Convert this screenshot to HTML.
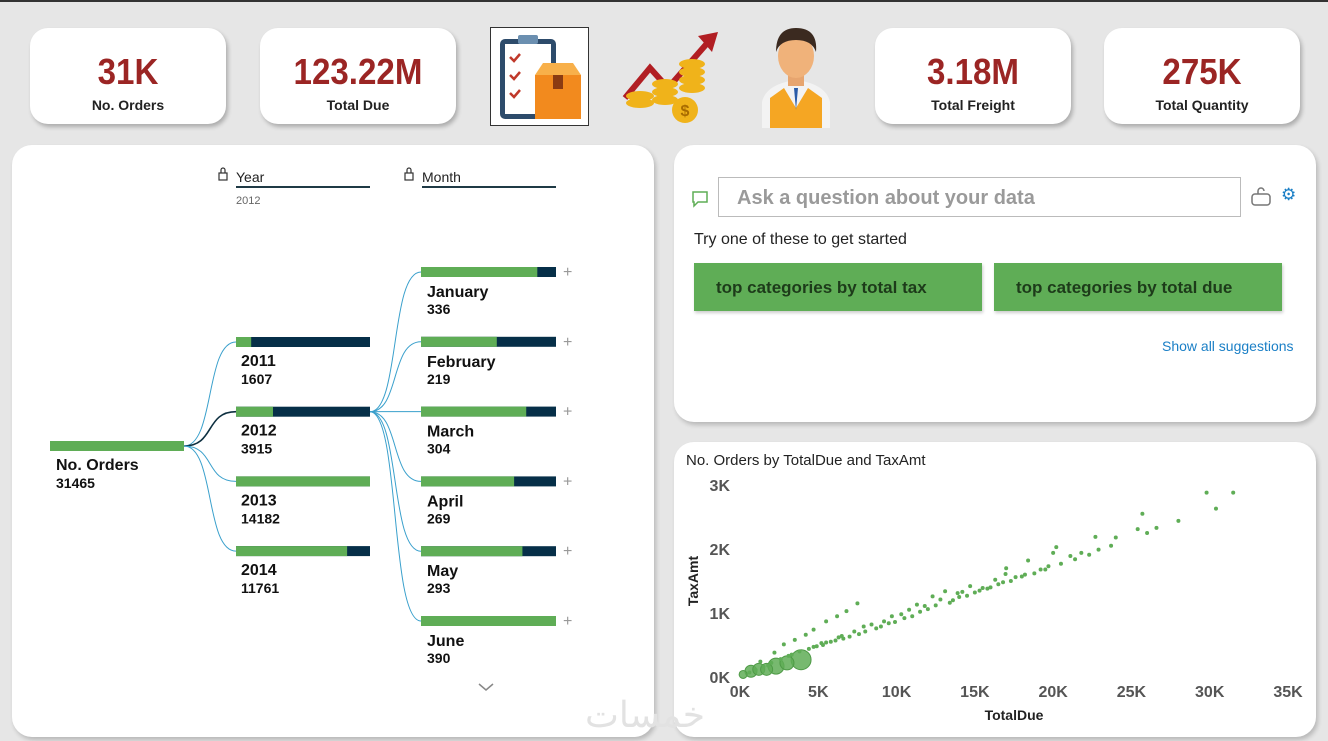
<!DOCTYPE html>
<html><head><meta charset="utf-8"><style>
*{box-sizing:border-box;margin:0;padding:0}
body{width:1328px;height:741px;background:#e6e6e6;font-family:"Liberation Sans",sans-serif;position:relative;overflow:hidden}
.abs{position:absolute}
.card{position:absolute;background:#fff;border-radius:18px;box-shadow:2px 3px 4px rgba(0,0,0,.25);text-align:center}
.card .v{font-size:36px;font-weight:bold;color:#9b2524;margin-top:22px;line-height:44px;transform:scaleX(.92)}
.card .l{font-size:14px;font-weight:bold;color:#222;margin-top:3px}
.panel{position:absolute;background:#fff;border-radius:20px;box-shadow:2px 3px 5px rgba(0,0,0,.2)}
.btn{position:absolute;background:#5fad56;top:263px;height:48px;width:288px;font-size:17px;font-weight:bold;color:#1d3b1a;padding:15px 22px;box-shadow:1px 2px 3px rgba(0,0,0,.2)}
</style></head><body>
<div class="abs" style="left:0;top:0;width:1328px;height:2px;background:#333"></div>
<div class="card" style="left:30px;top:28px;width:196px;height:96px"><div class="v">31K</div><div class="l">No. Orders</div></div>
<div class="card" style="left:260px;top:28px;width:196px;height:96px"><div class="v">123.22M</div><div class="l">Total Due</div></div>
<div class="card" style="left:875px;top:28px;width:196px;height:96px"><div class="v">3.18M</div><div class="l">Total Freight</div></div>
<div class="card" style="left:1104px;top:28px;width:196px;height:96px"><div class="v">275K</div><div class="l">Total Quantity</div></div>

<svg class="abs" style="left:490px;top:27px" width="99" height="99">
<rect x="0.5" y="0.5" width="98" height="98" fill="#fff" stroke="#333"/>
<rect x="10" y="12" width="56" height="80" rx="5" fill="#2d4b6b"/><rect x="15" y="17" width="46" height="70" fill="#fff"/>
<rect x="28" y="8" width="20" height="9" rx="2" fill="#6b8fb0"/>
<path d="M20 30l4 4 6-7M20 48l4 4 6-7M20 66l4 4 6-7" stroke="#c0392b" stroke-width="2.5" fill="none"/>
<rect x="45" y="48" width="46" height="44" fill="#f28a1e"/><path d="M45 48l8-12h30l8 12z" fill="#f8b04a"/><rect x="63" y="48" width="10" height="14" fill="#8a3b12"/>
</svg>
<svg class="abs" style="left:620px;top:28px" width="106" height="98">
<path d="M5 70L30 40l18 20L90 12" stroke="#b11e23" stroke-width="6" fill="none"/><path d="M78 8l20-4-6 20z" fill="#b11e23"/>
<g fill="#f0b31a"><ellipse cx="20" cy="75" rx="14" ry="5"/><ellipse cx="20" cy="68" rx="14" ry="5"/><ellipse cx="45" cy="72" rx="13" ry="5"/><ellipse cx="45" cy="64" rx="13" ry="5"/><ellipse cx="45" cy="56" rx="13" ry="5"/><ellipse cx="72" cy="60" rx="13" ry="5"/><ellipse cx="72" cy="52" rx="13" ry="5"/><ellipse cx="72" cy="44" rx="13" ry="5"/><ellipse cx="72" cy="36" rx="13" ry="5"/><circle cx="65" cy="82" r="13"/></g>
<text x="65" y="88" font-size="16" text-anchor="middle" fill="#a86b00" font-weight="bold">$</text>
</svg>
<svg class="abs" style="left:760px;top:22px" width="72" height="106">
<path d="M2 106V80q4-18 34-22q30 4 34 22v26z" fill="#f3f3f3"/><path d="M10 106V76l14-10 12 20 12-20 14 10v30z" fill="#f5a623"/>
<rect x="28" y="48" width="16" height="16" fill="#e7a56f"/><ellipse cx="36" cy="34" rx="18" ry="22" fill="#f0b27a"/>
<path d="M16 30q0-24 20-24q22 0 20 24q-4-12-20-12q-16 0-20 12z" fill="#3b2a20"/><path d="M34 66l2 22 2-22z" fill="#2b5ca8"/>
</svg>

<div class="panel" style="left:12px;top:145px;width:642px;height:592px"></div>
<div class="panel" style="left:674px;top:145px;width:642px;height:277px"></div>
<div class="panel" style="left:674px;top:442px;width:642px;height:295px"></div>

<svg class="abs" id="tree" style="left:0;top:0" width="660" height="741" font-family="Liberation Sans, sans-serif"></svg>

<svg class="abs" style="left:690px;top:189px" width="20" height="20"><path d="M3 3h14v10H8l-4 4v-4H3z" fill="none" stroke="#5fad56" stroke-width="1.5"/></svg>
<div class="abs" style="left:718px;top:177px;width:523px;height:40px;border:1px solid #bbb;font-size:20px;font-weight:bold;color:#9a9a9a;padding:9px 18px">Ask a question about your data</div>
<svg class="abs" style="left:1250px;top:186px" width="22" height="22"><rect x="2" y="8" width="18" height="11" rx="3" fill="none" stroke="#777" stroke-width="1.5"/><path d="M8 8V5a3 3 0 0 1 6 0" fill="none" stroke="#777" stroke-width="1.5"/></svg>
<div class="abs" style="left:1281px;top:185px;font-size:17px;color:#1a7fc6">⚙</div>
<div class="abs" style="left:694px;top:231px;font-size:16px;color:#222">Try one of these to get started</div>
<div class="btn" style="left:694px">top categories by total tax</div>
<div class="btn" style="left:994px">top categories by total due</div>
<div class="abs" style="left:1162px;top:338px;font-size:14px;color:#1a7fc6">Show all suggestions</div>

<svg class="abs" id="scatter" style="left:676px;top:444px" width="636" height="290" font-family="Liberation Sans, sans-serif"></svg>
<div class="abs" style="left:585px;top:686px;font-size:36px;color:#e2e2e2;font-family:'Noto Sans CJK SC',sans-serif">خمسات</div>

<script>
const years=["2011","2012","2013","2014"];
const yearVals=[1607,3915,14182,11761];
const months=["January","February","March","April","May","June"];
const monthVals=[336,219,304,269,293,390];
const rootLabel="No. Orders", rootVal=31465;

const scX=[29.8,31.5,30.4,28.0,25.7,26.6,25.4,26.0,24.0,22.7,23.7,22.9,20.2,20.0,21.1,20.5,18.4,19.2,17.0,16.96,16.3,18.2,14.7,13.1,12.3,11.3,10.8,9.7,9.2,7.9,7.5,6.8,6.2,5.5,4.7,4.2,6.5,5.2,3.5,2.8,2.2,1.3,11.8,13.9,15.5,17.6,19.7,21.8,8.4,7.3,6.3,5.5,4.7,10.3,12.8,14.2,16.8,3.1,1.8,
4.4,4.9,5.3,5.8,6.1,6.6,7.0,7.6,8.0,8.7,9.0,9.5,9.9,10.5,11.0,11.5,12.0,12.5,13.4,13.6,14.0,14.5,15.0,15.3,15.8,16.0,16.5,17.3,18.0,18.8,19.5,21.4,22.3,3.8,3.3,2.6,2.0,1.5,1.0,0.6];
const scY=[2.88,2.88,2.63,2.44,2.55,2.33,2.31,2.25,2.18,2.19,2.05,1.99,2.03,1.94,1.89,1.77,1.82,1.68,1.70,1.61,1.52,1.60,1.42,1.34,1.26,1.13,1.05,0.95,0.87,0.79,1.15,1.03,0.95,0.87,0.74,0.66,0.64,0.53,0.58,0.51,0.38,0.24,1.11,1.31,1.39,1.56,1.73,1.94,0.82,0.71,0.62,0.54,0.47,0.98,1.21,1.33,1.48,0.33,0.18,
0.44,0.48,0.50,0.55,0.57,0.60,0.63,0.67,0.71,0.76,0.79,0.84,0.86,0.92,0.95,1.02,1.06,1.12,1.16,1.20,1.25,1.27,1.32,1.35,1.38,1.40,1.45,1.50,1.57,1.62,1.68,1.84,1.91,0.40,0.35,0.28,0.22,0.16,0.11,0.07];
const bubX=[3.9,2.3,0.7,0.2,1.2,1.7,3.0];
const bubY=[0.27,0.17,0.09,0.04,0.12,0.12,0.22];
const bubR=[10,8,6,4,6,6,7];
const xTicks=[0,5,10,15,20,25,30,35];
const yTicks=[0,1,2,3];

const NS="http://www.w3.org/2000/svg";
function mk(p,t,a,txt){const e=document.createElementNS(NS,t);for(const k in a)e.setAttribute(k,a[k]);if(txt!==undefined)e.textContent=txt;p.appendChild(e);return e;}

// tree
const T=document.getElementById('tree');
[["Year",236],["Month",422]].forEach(([h,x])=>{
  const g=mk(T,'g',{});
  
  
  mk(g,'rect',{x:x-17,y:173,width:8,height:7,fill:'none',stroke:'#333','stroke-width':1.2});
  mk(g,'path',{d:`M${x-15} 173v-3a2 2 0 0 1 4 0v3`,fill:'none',stroke:'#333','stroke-width':1.2});
  mk(g,'text',{x:x,y:182,'font-size':14,fill:'#222'},h);
  mk(g,'rect',{x:x,y:186,width:134,height:2,fill:'#1f3a45'});
});
mk(T,'text',{x:236,y:204,'font-size':11,fill:'#666'},'2012');
const rootY=446, yearY0=342, yStep=69.7, monthY0=272, mStep=69.8;
const bx1=236,bw=134,mx=421,mw=135;
let rg=mk(T,'g',{});
mk(rg,'rect',{x:50,y:rootY-5,width:134,height:10,fill:'#5fad56'});
mk(rg,'text',{x:56,y:470,'font-size':16,'font-weight':'bold',fill:'#111'},rootLabel);
mk(rg,'text',{x:56,y:488,'font-size':14,'font-weight':'bold',fill:'#111'},rootVal);
const ymax=Math.max(...yearVals);
years.forEach((y,i)=>{
  const cy=yearY0+i*yStep;
  const c=mk(T,'path',{d:`M184 ${rootY} C215 ${rootY} 205 ${cy} 236 ${cy}`,fill:'none',stroke:i==1?'#0d2f40':'#3aa0cc','stroke-width':i==1?1.6:1});
  
  const g=mk(T,'g',{});
  mk(g,'rect',{x:bx1,y:cy-5,width:bw,height:10,fill:'#062f48'});
  mk(g,'rect',{x:bx1,y:cy-5,width:bw*yearVals[i]/ymax,height:10,fill:'#5fad56'});
  mk(g,'text',{x:241,y:cy+24,'font-size':16,'font-weight':'bold',fill:'#111'},y);
  mk(g,'text',{x:241,y:cy+42,'font-size':14,'font-weight':'bold',fill:'#111'},yearVals[i]);
});
const mmax=Math.max(...monthVals), sel=yearY0+yStep;
months.forEach((m,i)=>{
  const cy=monthY0+i*mStep;
  const c=mk(T,'path',{d:`M370 ${sel} C400 ${sel} 390 ${cy} 421 ${cy}`,fill:'none',stroke:'#3aa0cc','stroke-width':1});
  
  const g=mk(T,'g',{});
  mk(g,'rect',{x:mx,y:cy-5,width:mw,height:10,fill:'#062f48'});
  mk(g,'rect',{x:mx,y:cy-5,width:mw*monthVals[i]/mmax,height:10,fill:'#5fad56'});
  mk(g,'text',{x:427,y:cy+25,'font-size':16,'font-weight':'bold',fill:'#111'},m);
  mk(g,'text',{x:427,y:cy+42,'font-size':14,'font-weight':'bold',fill:'#111'},monthVals[i]);
  const p=mk(T,'text',{x:563,y:cy+5,'font-size':16,fill:'#999'},'+');
  
});
const chev=mk(T,'path',{d:'M479 684l7 6 7-6',fill:'none',stroke:'#888','stroke-width':1.5});


// scatter
const S=document.getElementById('scatter');
const ox=676,oy=444;
const X=v=>740-ox+v*(1288-740)/35, Y=v=>677-oy-v*(677-485)/3;
let t=mk(S,'text',{x:10,y:21,'font-size':15,fill:'#222'},'No. Orders by TotalDue and TaxAmt');

yTicks.forEach(v=>{const e=mk(S,'text',{x:X(0)-10,y:Y(v)+6,'font-size':16,'font-weight':'bold',fill:'#555','text-anchor':'end'},v+'K');});
xTicks.forEach(v=>{const e=mk(S,'text',{x:X(v),y:253,'font-size':16,'font-weight':'bold',fill:'#555','text-anchor':'middle'},v+'K');});
t=mk(S,'text',{x:X(17.5),y:276,'font-size':14,'font-weight':'bold',fill:'#222','text-anchor':'middle'},'TotalDue');

t=mk(S,'text',{x:0,y:0,'font-size':14,'font-weight':'bold',fill:'#222','text-anchor':'middle',transform:`translate(22,${Y(1.5)}) rotate(-90)`},'TaxAmt');

bubX.forEach((v,i)=>{const c=mk(S,'circle',{cx:X(v),cy:Y(bubY[i]),r:bubR[i],fill:'#5fad56','fill-opacity':0.85,stroke:'#4e9a46'});});
scX.forEach((v,i)=>{const c=mk(S,'circle',{cx:X(v),cy:Y(scY[i]),r:2,fill:'#5fad56'});});
</script>
</body></html>
